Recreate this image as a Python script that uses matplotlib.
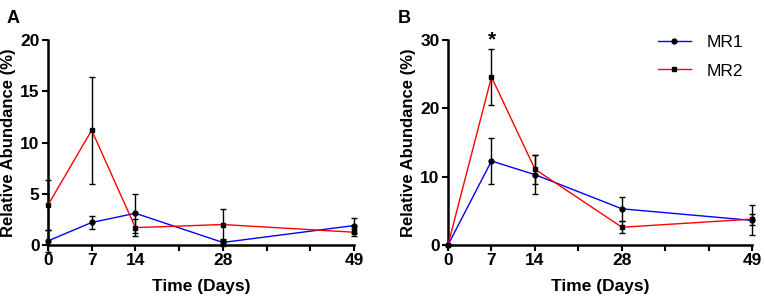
import matplotlib
matplotlib.use('Agg')
import matplotlib.pyplot as plt
import numpy as np

plt.rcParams['font.family'] = ['Liberation Sans', 'DejaVu Sans']

days = [0, 7, 14, 28, 49]
xtick_labels = ['0', '7', '14', '', '28', '', '', '49']

# panel A
a_mr1 = [0.4, 2.2, 3.1, 0.25, 1.9]
a_mr1_err = [1.1, 0.65, 1.9, 0.3, 0.7]
a_mr2 = [3.9, 11.2, 1.7, 2.0, 1.25]
a_mr2_err = [2.4, 5.2, 0.8, 1.5, 0.35]

# panel B
b_mr1 = [0.0, 12.3, 10.3, 5.3, 3.6]
b_mr1_err = [0.0, 3.3, 2.9, 1.8, 2.2]
b_mr2 = [0.0, 24.6, 11.1, 2.6, 3.8]
b_mr2_err = [0.0, 4.1, 2.1, 0.9, 0.8]

fig = plt.figure(figsize=(7.65, 2.97), dpi=100)
axA = fig.add_axes([0.0627, 0.175, 0.400, 0.690])
axB = fig.add_axes([0.5856, 0.175, 0.398, 0.690])


def panel(ax, mr1, e1, mr2, e2, ymax, ystep):
    ax.errorbar(days, mr1, yerr=e1, fmt='none', ecolor='black', elinewidth=1.0,
                capsize=2, capthick=1.0, clip_on=False, zorder=3)
    ax.errorbar(days, mr2, yerr=e2, fmt='none', ecolor='black', elinewidth=1.0,
                capsize=2, capthick=1.0, clip_on=False, zorder=3)
    ax.plot(days, mr1, color='#0000ff', lw=1.0, marker='o', ms=3.5,
            mfc='black', mec='black', clip_on=False, zorder=4, label='MR1')
    ax.plot(days, mr2, color='#ff0000', lw=1.0, marker='s', ms=3.5,
            mfc='black', mec='black', clip_on=False, zorder=4, label='MR2')
    ax.set_xlim(0, 49)
    ax.set_ylim(0, ymax)
    ax.set_xticks(np.arange(0, 50, 7))
    ax.set_xticklabels(xtick_labels)
    ax.set_yticks(np.arange(0, ymax + 1, ystep))
    for s in ['top', 'right']:
        ax.spines[s].set_visible(False)
    for s in ['left', 'bottom']:
        ax.spines[s].set_linewidth(1.8)
    ax.tick_params(width=1.5, length=4, labelsize=12.5, pad=2)
    for lab in ax.get_xticklabels() + ax.get_yticklabels():
        lab.set_fontweight('bold')
    ax.set_xlabel('Time (Days)', fontsize=12.5, fontweight='bold', labelpad=8)
    ax.set_ylabel('Relative Abundance (%)', fontsize=12, fontweight='bold', labelpad=3)


panel(axA, a_mr1, a_mr1_err, a_mr2, a_mr2_err, 20, 5)
panel(axB, b_mr1, b_mr1_err, b_mr2, b_mr2_err, 30, 10)

axB.text(7, 30, '*', ha='center', va='center', fontsize=15, fontweight='bold')
axB.legend(loc='upper right', bbox_to_anchor=(1.02, 1.10), frameon=False,
           fontsize=12.5, handlelength=1.9, handletextpad=0.9, labelspacing=0.75)

fig.text(0.008, 0.965, 'A', fontsize=13, fontweight='bold', va='top')
fig.text(0.52, 0.965, 'B', fontsize=13, fontweight='bold', va='top')

plt.savefig('out.png', dpi=100)
